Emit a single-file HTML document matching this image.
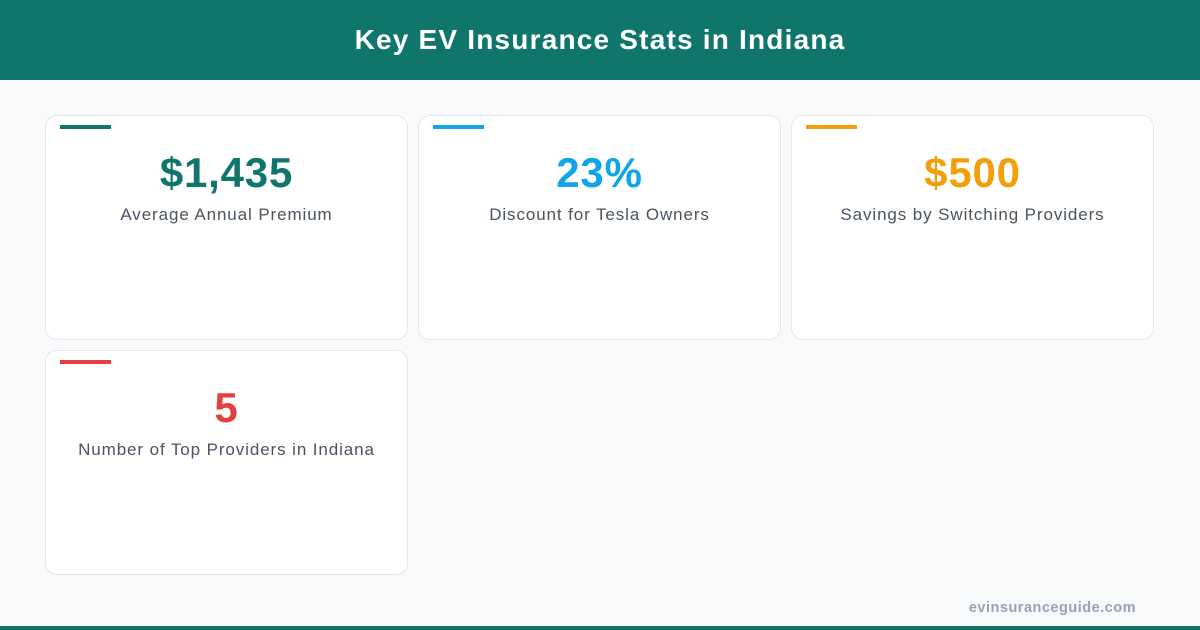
<!DOCTYPE html>
<html><head><meta charset="utf-8"><style>
*{margin:0;padding:0;box-sizing:border-box}
body{width:1200px;height:630px;background:#f7f9fb;font-family:"Liberation Sans",sans-serif;position:relative;overflow:hidden}
.hdr{position:absolute;left:0;top:0;width:1200px;height:80px;background:#10766c;color:#fff;font-weight:bold;font-size:28px;letter-spacing:1.2px;text-align:center;line-height:80px}
.card{position:absolute;width:363px;height:225px;background:#fff;border:1px solid #e3e7ec;border-radius:12px}
.bar{position:absolute;left:14px;top:9px;width:51px;height:4px}
.val{position:absolute;left:0;right:0;top:32px;text-align:center;font-weight:bold;font-size:42px;letter-spacing:0.8px;line-height:50px}
.lbl{position:absolute;left:0;right:0;top:89px;text-align:center;font-size:17px;letter-spacing:0.9px;color:#4a5263;line-height:20px}
.foot{position:absolute;right:64px;top:600px;font-size:14.5px;letter-spacing:0.5px;font-weight:bold;color:#98a2b5}
.bot{position:absolute;left:0;top:626px;width:1200px;height:4px;background:#10766c}
</style></head><body>
<div class="hdr">Key EV Insurance Stats in Indiana</div>
<div class="card" style="left:45px;top:115px"><div class="bar" style="background:#10766c"></div><div class="val" style="color:#10766c">$1,435</div><div class="lbl">Average Annual Premium</div></div>
<div class="card" style="left:418px;top:115px"><div class="bar" style="background:#0ea5e9"></div><div class="val" style="color:#0ea5e9">23%</div><div class="lbl">Discount for Tesla Owners</div></div>
<div class="card" style="left:791px;top:115px"><div class="bar" style="background:#f59e0b"></div><div class="val" style="color:#f59e0b">$500</div><div class="lbl">Savings by Switching Providers</div></div>
<div class="card" style="left:45px;top:350px"><div class="bar" style="background:#e53e3e"></div><div class="val" style="color:#e53e3e">5</div><div class="lbl">Number of Top Providers in Indiana</div></div>
<div class="foot">evinsuranceguide.com</div>
<div class="bot"></div>
</body></html>
